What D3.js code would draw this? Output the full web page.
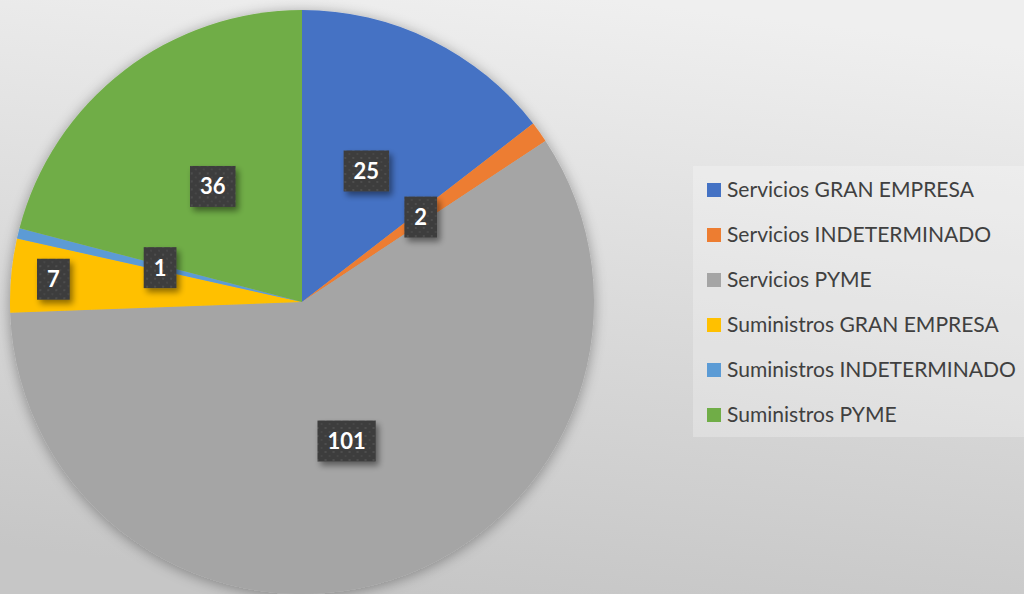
<!DOCTYPE html>
<html><head><meta charset="utf-8">
<script src="https://cdn.jsdelivr.net/npm/d3@7"></script>
<style>html,body{margin:0;padding:0;overflow:hidden;}svg{display:block;}</style>
</head><body>
<svg id="c" width="1024" height="594"></svg>
<script>
const categories = ["Servicios GRAN EMPRESA","Servicios INDETERMINADO","Servicios PYME","Suministros GRAN EMPRESA","Suministros INDETERMINADO","Suministros PYME"];
const values = [25, 2, 101, 7, 1, 36];
const colors = ["#4472C4","#ED7D31","#A5A5A5","#FFC000","#5B9BD5","#70AD47"];

const W = 1024, H = 594;
const svg = d3.select("#c");
const defs = svg.append("defs");

const bg = defs.append("linearGradient").attr("id","bg").attr("x1","0.6").attr("y1","0").attr("x2","0.4").attr("y2","1");
bg.append("stop").attr("offset","0").attr("stop-color","#efefef");
bg.append("stop").attr("offset","1").attr("stop-color","#c6c6c6");
svg.append("rect").attr("width",W).attr("height",H).attr("fill","url(#bg)");

const pieShadow = defs.append("filter").attr("id","ps").attr("x","-20%").attr("y","-20%").attr("width","140%").attr("height","140%");
pieShadow.append("feGaussianBlur").attr("in","SourceAlpha").attr("stdDeviation",7).attr("result","b");
pieShadow.append("feOffset").attr("in","b").attr("dx",0).attr("dy",2).attr("result","o");
pieShadow.append("feComponentTransfer").attr("in","o").attr("result","s").append("feFuncA").attr("type","linear").attr("slope",0.35);
const pm = pieShadow.append("feMerge"); pm.append("feMergeNode").attr("in","s"); pm.append("feMergeNode").attr("in","SourceGraphic");

const lblShadow = defs.append("filter").attr("id","ls").attr("x","-30%").attr("y","-30%").attr("width","170%").attr("height","170%");
lblShadow.append("feGaussianBlur").attr("in","SourceAlpha").attr("stdDeviation",3).attr("result","b");
lblShadow.append("feOffset").attr("in","b").attr("dx",3).attr("dy",4).attr("result","o");
lblShadow.append("feComponentTransfer").attr("in","o").attr("result","s").append("feFuncA").attr("type","linear").attr("slope",0.45);
const lm = lblShadow.append("feMerge"); lm.append("feMergeNode").attr("in","s"); lm.append("feMergeNode").attr("in","SourceGraphic");

const pat = defs.append("pattern").attr("id","dots").attr("width",8).attr("height",8).attr("patternUnits","userSpaceOnUse");
pat.append("rect").attr("width",8).attr("height",8).attr("fill","#3d3d3d");
pat.append("rect").attr("x",2).attr("y",2).attr("width",2).attr("height",2).attr("fill","#4e4e4e");
pat.append("rect").attr("x",6).attr("y",6).attr("width",2).attr("height",2).attr("fill","#474747");

const cx = 302, cy = 302, R = 292;
const pie = d3.pie().sort(null).value(d => d)(values);
const arc = d3.arc().innerRadius(0).outerRadius(R);
const g = svg.append("g").attr("transform",`translate(${cx},${cy})`);
g.append("g").attr("filter","url(#ps)").selectAll("path").data(pie).join("path")
  .attr("d", arc).attr("fill",(d,i)=>colors[i]);

// label radial factors (the small 7 slice label is pushed outward)
const labelFactor = [0.5,0.5,0.5,0.855,0.5,0.5];
const lg = g.append("g");
pie.forEach((d,i) => {
  const a = (d.startAngle + d.endAngle)/2;
  const r = R*labelFactor[i];
  const x = Math.sin(a)*r, y = -Math.cos(a)*r;
  const grp = lg.append("g").attr("transform",`translate(${x},${y})`);
  const rect = grp.append("rect").attr("fill","url(#dots)").attr("filter","url(#ls)");
  const t = grp.append("text").attr("text-anchor","middle").attr("dy","0.36em")
    .attr("fill","#fff").attr("font-family","Lato, 'Open Sans', sans-serif").attr("font-weight","bold")
    .attr("font-size",22).text(values[i]);
  const w = t.node().getComputedTextLength() + 20;
  const h = 41;
  rect.attr("x",-w/2).attr("y",-h/2).attr("width",w).attr("height",h);
});

// legend
const leg = svg.append("g");
leg.append("rect").attr("x",693).attr("y",166).attr("width",331).attr("height",271).attr("fill","#ffffff").attr("fill-opacity",0.25);
categories.forEach((c,i) => {
  const y = 190 + i*45;
  leg.append("rect").attr("x",707).attr("y",y-7).attr("width",14).attr("height",14).attr("fill",colors[i]);
  const t = leg.append("text").attr("x",727).attr("y",y).attr("dy","0.35em")
    .attr("fill","#404040").attr("font-family","Lato, 'Open Sans', sans-serif").attr("font-size",20).text(c);
  if (i===0) {
    const len = t.node().getComputedTextLength();
    leg.attr("data-scale", 247/len);
  }
});
const sc = +leg.attr("data-scale");
leg.selectAll("text").attr("font-size", 20*sc);
</script>
</body></html>
